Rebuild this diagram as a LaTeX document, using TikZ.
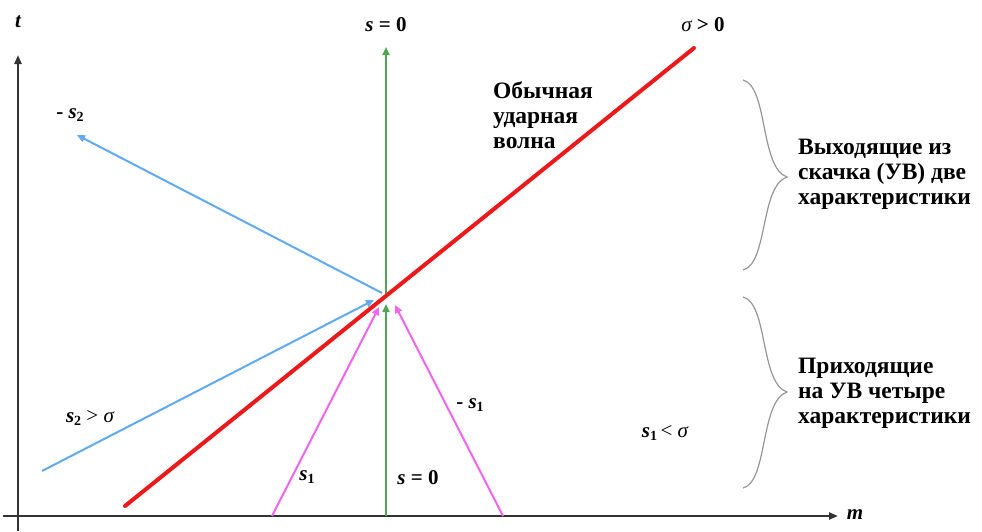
\documentclass[tikz,border=0pt]{standalone}
\usepackage{fontspec}
\setmainfont{Liberation Serif}
\usetikzlibrary{arrows.meta}
\newcommand\mysub[1]{\raisebox{-0.4ex}{\upshape\bfseries\fontsize{14}{14}\selectfont #1}}
\definecolor{redline}{RGB}{235,25,25}
\definecolor{blueline}{RGB}{95,170,240}
\definecolor{magline}{RGB}{240,100,240}
\definecolor{greenline}{RGB}{80,165,80}
\definecolor{bracegray}{RGB}{150,150,150}
\tikzset{
  axis/.style={line width=2.8pt, black!80, -{Triangle[length=9pt,width=7pt]}},
  shock/.style={line width=4pt, redline, line cap=round},
  bluech/.style={line width=2pt, blueline},
  magch/.style={line width=2pt, magline},
  greench/.style={line width=2pt, greenline},
  tip/.style={-{Triangle[length=8pt,width=7pt]}},
  brc/.style={line width=1.2pt, bracegray},
  lbl/.style={font=\fontsize{21}{25}\selectfont\bfseries, inner sep=0pt},
  txt/.style={font=\fontsize{23.5}{25}\selectfont\bfseries, align=left, anchor=west, inner sep=0pt},
}
\begin{document}
\begin{tikzpicture}[x=1pt,y=-1pt]
\useasboundingbox (0,0) rectangle (982,531);
% coordinates
\coordinate (tB) at (18,531);
\coordinate (tT) at (18,55);
\coordinate (mL) at (3,516);
\coordinate (mR) at (838,516);
\coordinate (gB) at (386,516);
\coordinate (gM) at (386,304);
\coordinate (gP) at (386,297);
\coordinate (gT) at (386,47);
\coordinate (rA) at (125,506);
\coordinate (rB) at (694,48);
\coordinate (bP) at (382,293);
\coordinate (bE) at (77,135);
\coordinate (bS) at (42,471);
\coordinate (bI) at (374,300);
\coordinate (m1S) at (272,516);
\coordinate (m1E) at (379,307);
\coordinate (m2S) at (503,516);
\coordinate (m2E) at (395,305);
% axes
\draw[axis] (tB) -- (tT);
\draw[axis] (mL) -- (mR);
% characteristics
\draw[greench,tip] (gB) -- (gM);
\draw[greench,tip] (gP) -- (gT);
\draw[bluech,tip] (bP) -- (bE);
\draw[bluech,tip] (bS) -- (bI);
\draw[magch,tip] (m1S) -- (m1E);
\draw[magch,tip] (m2S) -- (m2E);
\draw[shock] (rA) -- (rB);
% braces
\draw[brc] (743,80) .. controls (768,86) and (760,168) .. (787,177)
               .. controls (760,186) and (768,264) .. (743,270);
\draw[brc] (743,297) .. controls (768,303) and (760,383) .. (787,392)
               .. controls (760,401) and (768,482) .. (743,488);
% labels
\node[lbl] (lt) at (18,22) {\itshape t};
\node[lbl] (lm) at (855,515) {\itshape m};
\node[lbl] (ls0t) at (386,25) {\itshape s\upshape\ = 0};
\node[lbl] (lsig) at (703,25) {\mdseries\itshape σ\upshape\bfseries\ > 0};
\node[txt] (lob) at (493,115) {Обычная\\ударная\\волна};
\node[lbl] (lms2) at (70,115) {- \itshape s\mysub{2}};
\node[lbl] (ls2) at (90,418) {\itshape s\mysub{2}\upshape\mdseries\ > \itshape σ};
\node[lbl] (ls1) at (307,477) {\itshape s\mysub{1}};
\node[lbl] (ls0b) at (418,478) {\itshape s\upshape\ = 0};
\node[lbl] (lms1) at (470,405) {- \itshape s\mysub{1}};
\node[lbl] (ls1s) at (665,433) {\itshape s\mysub{1}\upshape\mdseries\,< \itshape σ};
\node[txt] (lout) at (798,174) {Выходящие из\\скачка (УВ) две\\характеристики};
\node[txt] (lin) at (798,393) {Приходящие\\на УВ четыре\\характеристики};
\end{tikzpicture}
\end{document}
